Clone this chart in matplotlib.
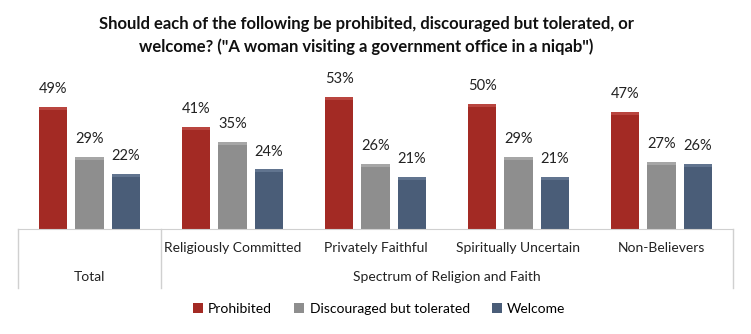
import matplotlib.pyplot as plt
from matplotlib.lines import Line2D
from matplotlib.patches import Patch
import numpy as np

plt.rcParams['font.family'] = ['Lato', 'DejaVu Sans']

groups = ['Total', 'Religiously Committed', 'Privately Faithful',
          'Spiritually Uncertain', 'Non-Believers']
series = ['Prohibited', 'Discouraged but tolerated', 'Welcome']
prohibited = [49, 41, 53, 50, 47]
discouraged = [29, 35, 26, 29, 27]
welcome = [22, 24, 21, 21, 26]
values = [prohibited, discouraged, welcome]

colors = ['#a32a24', '#8e8e8e', '#4a5d78']
tops = ['#b9453f', '#a6a6a6', '#61748f']

fig = plt.figure(figsize=(7.51, 3.34), dpi=100)
ax = fig.add_axes([18 / 751, 105 / 334, 715 / 751, 150 / 334])

x = np.arange(len(groups))
width = 0.196
step = 0.252

for i, (vals, c, tc) in enumerate(zip(values, colors, tops)):
    pos = x + (i - 1) * step
    ax.bar(pos, vals, width=width, color=c, edgecolor='none', zorder=2)
    # lighter cap for the bevelled look
    ax.bar(pos, [1.2] * len(vals), bottom=[v - 1.2 for v in vals],
           width=width, color=tc, edgecolor='none', zorder=3)
    for px, v in zip(pos, vals):
        ax.text(px, v + 4.2, f'{v}%', ha='center', va='bottom',
                fontsize=10.5, color='#222222')

ax.set_xlim(-0.5, 4.5)
ax.set_ylim(0, 60)
ax.set_xticks([])
ax.set_yticks([])
for s in ['top', 'left', 'right']:
    ax.spines[s].set_visible(False)
ax.spines['bottom'].set_color('#d0d0d0')

# category table under the axis
line_kw = dict(color='#d0d0d0', lw=1, transform=ax.transAxes, clip_on=False)
for xa in [0, 0.2, 1.0]:
    ax.add_line(Line2D([xa, xa], [0, -0.393], **line_kw))

for xi, g in zip(x[1:], groups[1:]):
    ax.text(xi, -0.127, g, transform=ax.get_xaxis_transform(),
            ha='center', va='center', fontsize=10, color='#222222')
ax.text(0, -0.32, groups[0], transform=ax.get_xaxis_transform(),
        ha='center', va='center', fontsize=10, color='#222222')
ax.text(2.5, -0.32, 'Spectrum of Religion and Faith',
        transform=ax.get_xaxis_transform(),
        ha='center', va='center', fontsize=10, color='#222222')

fig.text(0.488, 0.893, 'Should each of the following be prohibited, discouraged but tolerated, or\n'
         'welcome? ("A woman visiting a government office in a niqab")',
         ha='center', va='center', fontsize=12, fontweight='bold',
         color='#111111', linespacing=1.45)

handles = [Patch(facecolor=c, edgecolor='none') for c in colors]
fig.legend(handles, series, loc='center', bbox_to_anchor=(0.505, 0.075),
           ncol=3, frameon=False, fontsize=10, handlelength=0.7,
           handleheight=0.7, handletextpad=0.4, columnspacing=1.6)

fig.savefig('out.png', dpi=100)
